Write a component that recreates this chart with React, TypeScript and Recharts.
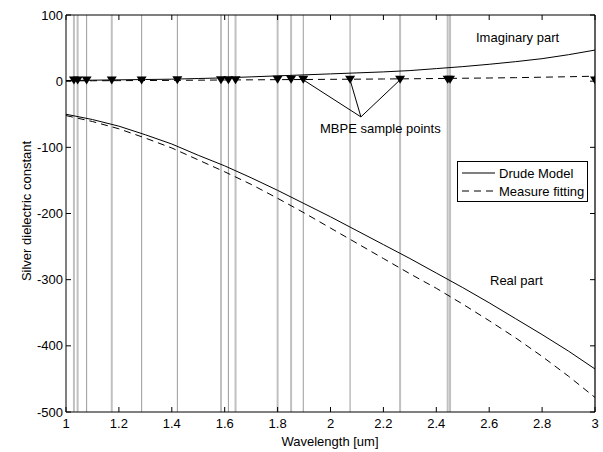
import React from 'react';
import { ComposedChart, Line, XAxis, YAxis, ReferenceLine } from 'recharts';

// ---------- data ----------
const wavelength = [1.0, 1.1, 1.2, 1.3, 1.4, 1.5, 1.6, 1.7, 1.8, 1.9, 2.0, 2.1, 2.2, 2.3, 2.4, 2.5, 2.6, 2.7, 2.8, 2.9, 3.0];
const drudeReal = [-50, -58, -68, -81, -95, -112, -128, -146, -165, -185, -205, -226, -247, -268, -290, -312, -335, -359, -383, -408, -435];
const measureReal = [-52, -61, -72, -86, -101, -119, -137, -156, -177, -199, -222, -245, -268, -291, -313, -337, -362, -388, -416, -446, -478];
const drudeImag = [1, 1.5, 2, 2.5, 3, 4, 5, 6.5, 8, 9.5, 11, 12.5, 14, 16, 19, 22, 25.5, 29.5, 34, 40, 47];
const measureImag = [0.5, 0.6, 0.8, 1, 1.2, 1.5, 1.8, 2, 2.3, 2.5, 2.8, 3, 3.3, 3.6, 4, 4.4, 4.8, 5.3, 6, 6.7, 7.5];

const sampleX = [1.03, 1.044, 1.078, 1.173, 1.286, 1.421, 1.586, 1.614, 1.641, 1.8, 1.851, 1.897, 2.074, 2.263, 2.443, 2.452, 3.0];
const sampleY = [1, 1, 1, 1, 1, 1.5, 1.5, 1.5, 1.5, 2, 2, 2, 2, 2, 2, 2, 1];

const pointedSamples = [11, 12, 13]; // indices of samples the annotation points to
const pointerApex = { x: 2.115, y: -54 };

const xTicks = [1, 1.2, 1.4, 1.6, 1.8, 2, 2.2, 2.4, 2.6, 2.8, 3];
const yTicks = [-500, -400, -300, -200, -100, 0, 100];

const table = wavelength.map((x, i) => ({
  x,
  dr: drudeReal[i],
  mr: measureReal[i],
  di: drudeImag[i],
  mi: measureImag[i],
}));
const samples = sampleX.map((x, i) => ({ x, s: sampleY[i] }));

// ---------- style ----------
const FONT = '"Liberation Sans", Arial, Helvetica, sans-serif';
const LIGHT = new Set([0, 1, 3, 6, 8, 9, 10, 13, 14, 15, 16]);
const DASH = '7 5';

const Tri = (props: any) => {
  const { cx, cy, index } = props;
  if (cx == null || cy == null) return <g key={index} />;
  return <path key={index} d={`M${cx - 5},${cy - 4} L${cx + 5},${cy - 4} L${cx},${cy + 4} Z`} fill="#000" />;
};

export default function App() {
  return (
    <div style={{ position: 'absolute', left: 0, top: 0, width: 603, height: 452, background: '#fff', fontFamily: FONT }}>
      <ComposedChart width={603} height={452} data={table} margin={{ top: 14, right: 0, bottom: 0, left: 0 }} style={{ fontFamily: FONT }}>
        <XAxis xAxisId="b" dataKey="x" type="number" domain={[1, 3]} ticks={xTicks} interval={0}
          tickSize={-5} tickMargin={12} height={40} stroke="#000" allowDataOverflow
          tick={{ fill: '#000', fontSize: 13 }} />
        <XAxis xAxisId="t" orientation="top" dataKey="x" type="number" domain={[1, 3]} ticks={xTicks} interval={0}
          tickSize={-5} height={1} stroke="#000" allowDataOverflow tickFormatter={() => ''} />
        <YAxis yAxisId="l" type="number" domain={[-500, 100]} ticks={yTicks} interval={0}
          tickSize={-5} tickMargin={8} width={66} stroke="#000" allowDataOverflow
          tick={{ fill: '#000', fontSize: 13 }} />
        <YAxis yAxisId="r" orientation="right" type="number" domain={[-500, 100]} ticks={yTicks} interval={0}
          tickSize={-5} width={8} stroke="#000" allowDataOverflow tickFormatter={() => ''} />

        {sampleX.map((x, i) => (
          <ReferenceLine key={'v' + i} xAxisId="b" yAxisId="l" x={x}
            stroke={LIGHT.has(i) ? '#c0c0c0' : '#9a9a9a'} strokeWidth={LIGHT.has(i) ? 2 : 1} />
        ))}

        <Line xAxisId="b" yAxisId="l" type="linear" dataKey="dr" stroke="#000" strokeWidth={1} dot={false} isAnimationActive={false} />
        <Line xAxisId="b" yAxisId="l" type="linear" dataKey="mr" stroke="#000" strokeWidth={1} strokeDasharray={DASH} dot={false} isAnimationActive={false} />
        <Line xAxisId="b" yAxisId="l" type="linear" dataKey="di" stroke="#000" strokeWidth={1} dot={false} isAnimationActive={false} />
        <Line xAxisId="b" yAxisId="l" type="linear" dataKey="mi" stroke="#000" strokeWidth={1} strokeDasharray={DASH} dot={false} isAnimationActive={false} />

        {pointedSamples.map((k) => (
          <ReferenceLine key={'p' + k} xAxisId="b" yAxisId="l" stroke="#000" strokeWidth={1}
            segment={[{ x: pointerApex.x, y: pointerApex.y }, { x: sampleX[k], y: sampleY[k] }]} />
        ))}

        <Line xAxisId="b" yAxisId="l" data={samples} dataKey="s" stroke="none" dot={Tri} activeDot={false} isAnimationActive={false} />
      </ComposedChart>

      <svg width={603} height={452} style={{ position: 'absolute', left: 0, top: 0, pointerEvents: 'none' }}
        fontFamily={FONT} fontSize={13} fill="#000">
        <text x={476} y={42}>Imaginary part</text>
        <text x={320} y={133}>MBPE sample points</text>
        <text x={490} y={285}>Real part</text>
        <text x={330} y={446} textAnchor="middle">Wavelength [um]</text>
        <text transform="translate(31,211) rotate(-90)" textAnchor="middle">Silver dielectric constant</text>

        <rect x={457.5} y={161.5} width={130} height={40} fill="#fff" stroke="#000" strokeWidth={1} />
        <line x1={462} y1={173} x2={495} y2={173} stroke="#000" strokeWidth={1} />
        <text x={499} y={177.5}>Drude Model</text>
        <line x1={462} y1={191} x2={495} y2={191} stroke="#000" strokeWidth={1} strokeDasharray={DASH} />
        <text x={499} y={195.5}>Measure fitting</text>
      </svg>
    </div>
  );
}
